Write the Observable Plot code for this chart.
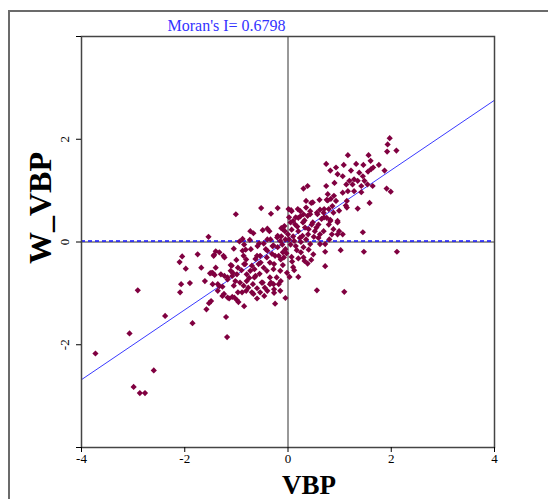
<!DOCTYPE html>
<html><head><meta charset="utf-8">
<script src="https://cdn.jsdelivr.net/npm/d3@7"></script>
<script src="https://cdn.jsdelivr.net/npm/@observablehq/plot@0.6"></script>
<style>
body{margin:0;background:#fff;overflow:hidden}
#frame{position:absolute;left:8px;top:10px;width:700px;height:700px;border:2px solid #6b6b6b;box-sizing:border-box}
#chart{position:absolute;left:0;top:0}
</style></head><body>
<div id="frame"></div>
<div id="chart"></div>
<script>
const title = "Moran's I= 0.6798";
const xLabel = "VBP";
const yLabel = "W_VBP";
const moranI = 0.6798;
const intercept = 0.04;
const xTicks = [-4, -2, 0, 2, 4];
const yTicks = [-4, -2, 0, 2, 4];
const yTickLabels = [-2, 0, 2];

const vbp = [
 -3.73,-2.91,-3.07,-2.38,-2.60,-2.99,-2.87,-2.77,-1.85,-2.09,-2.07,-1.90,-1.98,-2.10,-2.05,-1.75,-1.68,-1.61,-1.51,-1.58,-1.53,-1.54,-1.01,-0.52,-0.33,-0.20,-1.20,-1.18,-1.40,-1.05,-1.25,-1.44,
 1.97,1.93,1.92,2.10,1.16,1.56,0.74,0.93,1.08,1.32,1.46,1.60,1.65,1.76,0.82,1.22,1.06,
 0.96,1.38,1.45,1.55,1.61,1.87,1.28,1.19,1.35,1.48,1.13,1.25,1.42,1.54,1.64,0.90,0.74,
 0.38,0.30,1.16,1.28,1.06,1.91,1.99,1.42,0.77,0.89,0.61,0.45,0.75,0.83,1.58,1.35,1.14,
 1.12,0.99,0.79,0.86,0.35,0.19,0.70,0.24,0.38,0.57,0.70,0.82,0.96,0.07,0.10,0.29,0.48,
 1.45,1.02,1.47,2.11,0.72,0.72,0.56,1.09,0.38,0.32,0.49,0.72,0.96,0.99,0.85,0.79,
 0.69,0.62,0.96,0.43,0.59,0.62,0.43,0.30,0.17,0.07,0.20,0.10,0.03,0.20,-0.27,-0.05,
 -0.25,-1.43,-1.40,-1.49,-1.42,-1.30,-1.36,-1.46,-1.27,-1.11,-1.11,-1.08,-1.17,
 -1.24,-1.14,-1.08,-0.99,-0.96,-0.89,-0.86,-0.93,-0.80,-0.77,-0.70,-0.67,-0.54,
 -0.51,-0.45,-0.35,-0.28,-0.18,-0.22,-0.35,-0.41,-0.28,-0.15,-0.35,-0.41,-0.25,
 -0.08,-0.60,-0.86,-0.83,-0.73,-0.80,-0.63,-0.70,-0.99,-1.02,-0.57,-0.47,
 -0.88,-0.85,-0.82,-0.73,-0.67,-0.49,-0.40,-0.56,-0.47,-0.34,-0.21,-0.10,-0.07,-0.15,-0.28,-0.40,-0.54,-0.31,-0.18,-0.05,-0.63,
 0.01,0.06,0.35,0.48,0.77,0.93,1.14,0.24,0.20,0.30,0.43,0.56,0.75,0.88,0.82,1.06,0.14,0.07,0.20,0.33,0.46,0.59,0.69,0.52,0.39,0.23,0.10,-0.36,-0.13,-0.06,-0.13,
 -0.88,-0.81,-0.85,-0.97,-1.07,-1.17,-1.23,-1.46,-1.33,-1.36,-1.27,-1.17,-1.04,-0.97,-0.81,-0.68,-0.65,-0.49,-0.46,-0.27,-0.33,-0.14,-0.27,-0.14,-0.53,-0.65,-0.72,-0.59,-0.43,-0.30,-0.11,-0.40,-0.20,-0.94,-0.74,-1.33,-1.23,-1.09,-1.49,
 0.02,0.05,0.12,0.15,0.25,0.28,0.35,0.40,0.50,0.55,0.18,0.05,0.00,-0.03,0.08,0.25,0.40,0.12,-0.10,-0.02,0.15,0.32,0.65,0.62,0.80,0.88,0.30,-0.20,-0.10,0.45,0.02,-0.05,
 -0.60,-0.75,-0.90,-1.00,-0.55,-0.40,-0.15,-0.60,-0.85,-1.05
];
const wvbp = [
 -2.17,-0.94,-1.78,-1.44,-2.50,-2.82,-2.94,-2.94,-1.58,-0.98,-0.82,-0.80,-0.52,-0.39,-0.28,-0.24,-0.50,-0.76,-0.61,-1.31,-1.19,0.10,0.54,0.66,0.55,0.66,-1.46,-1.85,-0.18,-0.13,-0.27,-0.27,
 2.02,1.90,1.76,1.78,1.69,1.69,1.52,1.45,1.50,1.52,1.50,1.58,1.45,1.50,1.39,1.39,1.28,
 1.32,1.35,1.28,1.37,1.42,1.39,1.22,1.19,1.19,1.19,1.12,1.12,1.09,1.12,1.09,1.15,1.09,
 1.09,1.04,0.99,0.99,0.96,1.04,0.98,0.97,0.93,0.90,0.82,0.76,0.82,0.84,0.76,0.65,0.67,
 0.71,0.61,0.64,0.70,0.67,0.64,0.64,0.50,0.51,0.54,0.48,0.43,0.38,0.60,0.41,0.38,0.38,
 0.19,-0.16,-0.19,-0.19,-0.19,-0.47,-0.94,-0.97,-0.42,-0.37,-0.24,-0.04,0.15,0.21,0.15,0.34,
 0.57,0.63,0.41,0.54,0.08,-0.04,-0.04,-0.10,-0.16,-0.29,-0.32,-0.49,-0.68,-0.68,-0.99,-1.09,
 -1.20,-0.25,-0.50,-0.60,-0.64,-0.63,-0.82,-0.82,-0.87,-0.45,-0.56,-0.66,-0.69,
 -1.01,-1.10,-1.07,-1.13,-1.17,-0.98,-0.85,-0.79,-0.76,-0.89,-0.98,-1.01,-0.98,
 -0.79,-0.89,-0.82,-0.82,-0.82,-0.69,-0.69,-0.56,-0.53,-0.56,-0.40,-0.30,-0.27,
 -0.30,-0.27,-0.27,-0.43,-0.56,-0.63,-0.66,-0.46,-0.63,-0.76,-0.43,-0.50,
 0.06,-0.05,-0.15,0.21,0.17,0.23,0.26,-0.03,-0.03,0.05,0.09,0.25,0.31,0.02,-0.07,-0.17,-0.27,-0.23,-0.27,-0.14,-0.33,
 0.64,0.62,0.80,0.77,0.81,0.80,0.80,0.60,0.47,0.54,0.60,0.57,0.47,0.57,0.41,0.15,0.34,0.24,0.21,0.28,0.34,0.34,0.21,0.21,0.15,0.08,0.11,0.21,0.11,0.21,0.27,
 -0.17,-0.34,-0.43,-0.50,-0.60,-0.73,-0.66,-0.60,-0.86,-0.95,-1.05,-1.08,-1.08,-0.98,-0.95,-0.82,-0.69,-0.79,-1.05,-0.92,-0.79,-0.76,-0.43,-0.34,-0.40,-0.53,-0.14,-0.08,-0.14,-0.08,-0.05,0.05,0.12,0.01,0.04,-0.20,-0.30,-0.46,-1.15,
 0.05,-0.05,0.02,-0.08,0.00,0.12,0.05,0.25,0.10,0.28,0.30,0.38,0.15,-0.22,-0.38,-0.20,-0.15,-0.55,-0.45,-0.60,0.48,0.42,0.45,0.15,0.05,0.25,-0.30,-0.10,-0.20,-0.35,0.48,0.05,
 -0.90,-0.70,-0.55,-0.35,-0.62,-0.95,-0.95,-1.10,-1.25,-0.85
];

const points = vbp.map((x, i) => ({x, y: wvbp[i]})).filter(d => d.y !== undefined);
const fitLine = [xTicks[0], xTicks[xTicks.length - 1]].map(x => ({x, y: intercept + moranI * x}));
const serif = "'Liberation Serif','DejaVu Serif',serif";

const chart = Plot.plot({
  width: 548, height: 499,
  marginLeft: 81, marginRight: 54, marginTop: 36, marginBottom: 52,
  x: {domain: [-4, 4]},
  y: {domain: [-4, 4]},
  style: {fontFamily: serif, fontSize: "13px", background: "transparent", color: "#000", overflow: "visible"},
  marks: [
    Plot.ruleX([0], {stroke: "#333"}),
    Plot.ruleY([0], {stroke: "#333"}),
    Plot.ruleY([0], {stroke: "#1010ff", strokeDasharray: "4,3", strokeWidth: 1.6, dy: -1}),
    Plot.line(fitLine, {x: "x", y: "y", stroke: "#3a3aff", strokeWidth: 1}),
    Plot.dot(points, {x: "x", y: "y", symbol: "diamond2", r: 2.8, fill: "#800040", stroke: null}),
    Plot.frame({stroke: "#444", strokeWidth: 1.5}),
    Plot.axisX({ticks: xTicks, tickSize: 5, tickPadding: 1, label: null, tickFormat: d => String(d), fontSize: 13}),
    Plot.axisY({ticks: yTicks, tickSize: 5, label: null, tickFormat: d => ""}),
    Plot.text(yTickLabels, {y: d => d, text: d => String(d), frameAnchor: "left", dx: -17, rotate: -90, textAnchor: "middle", fontSize: 13}),
    Plot.text([title], {frameAnchor: "top-left", dx: 86, dy: -6, textAnchor: "start", lineAnchor: "bottom", fill: "#3333ff", fontSize: 16}),
    Plot.text([xLabel], {frameAnchor: "bottom", dx: 21, dy: 46, textAnchor: "middle", lineAnchor: "bottom", fontSize: 27, fontWeight: "bold"}),
    Plot.text([yLabel], {frameAnchor: "left", dx: -31, dy: -34, rotate: -90, textAnchor: "middle", lineAnchor: "bottom", fontSize: 32, fontWeight: "bold"})
  ]
});
document.getElementById("chart").appendChild(chart);
</script>
</body></html>
